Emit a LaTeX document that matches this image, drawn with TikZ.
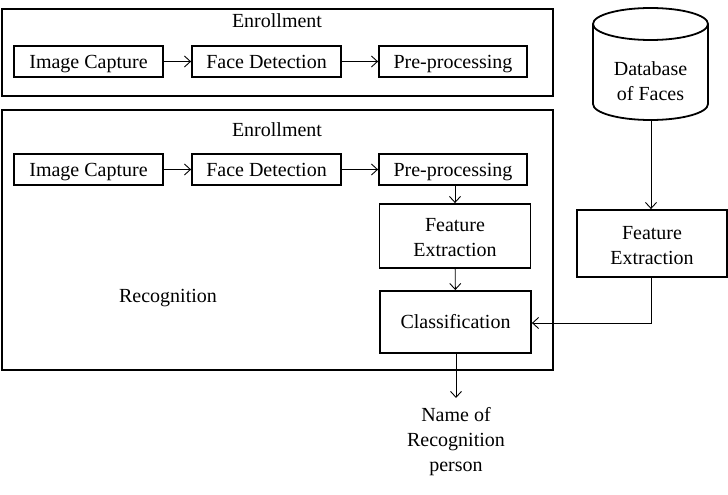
\documentclass[tikz,border=0pt]{standalone}
\usepackage{fontspec}
\setmainfont{Liberation Serif}
\usetikzlibrary{arrows.meta}
\begin{document}
\begin{tikzpicture}[x=1pt,y=-1pt,
  font=\fontsize{20}{25}\selectfont,
  one/.style={text height=15pt,text depth=1.6pt},
  box/.style={draw,line width=1.8pt,inner sep=0pt,align=center},
  outer/.style={draw,line width=1.8pt,inner sep=0pt},
  lbl/.style={inner sep=0pt,align=center},
  conn/.style={line width=0.9pt,-{Straight Barb[length=6pt,width=11pt]}}]
\useasboundingbox (0,0) rectangle (728,495);
% outer frames
\node[outer,minimum width=551pt,minimum height=87pt] (top) at (277.5,52.5) {};
\node[outer,minimum width=551pt,minimum height=260pt] (bot) at (277.5,240) {};
\node[lbl,one] (en1) at (277,21) {Enrollment};
\node[lbl,one] (en2) at (277,130) {Enrollment};
\node[lbl,one] (rec) at (168,296) {Recognition};
% row 1
\node[box,one,minimum width=149pt,minimum height=31pt] (ic1) at (88.5,61.5) {Image Capture};
\node[box,one,minimum width=149pt,minimum height=31pt] (fd1) at (266.5,61.5) {Face Detection};
\node[box,one,minimum width=148pt,minimum height=31pt] (pp1) at (453,61.5) {Pre-processing};
% row 2
\node[box,one,minimum width=149pt,minimum height=31pt] (ic2) at (88.5,169.5) {Image Capture};
\node[box,one,minimum width=149pt,minimum height=31pt] (fd2) at (266.5,169.5) {Face Detection};
\node[box,one,minimum width=148pt,minimum height=31pt] (pp2) at (453,169.5) {Pre-processing};
\node[box,minimum width=151pt,minimum height=64pt] (fe1) at (455,236) {};
\node[lbl] (fe1t) at (455,238) {Feature\\Extraction};
\node[box,one,minimum width=151pt,minimum height=62pt] (cl) at (455.5,322) {Classification};
\node[lbl] (name) at (456,442) {Name of\\Recognition\\person};
% database cylinder
\node[minimum width=115pt,minimum height=112pt,inner sep=0pt] (db) at (650.5,64) {};
\draw[line width=1.8pt] (593,24) arc[start angle=180,end angle=540,x radius=57.5pt,y radius=16pt]
  (593,24) -- (593,104) arc[start angle=180,end angle=0,x radius=57.5pt,y radius=-16pt] -- (708,24);
\node[lbl] (dbt) at (650.5,81) {Database\\of Faces};
\node[box,minimum width=150pt,minimum height=67pt] (fe2) at (652,243.5) {};
\node[lbl] (fe2t) at (652,246) {Feature\\Extraction};
% connectors
\draw[conn] (ic1) -- (fd1);
\draw[conn] (fd1) -- (pp1);
\draw[conn] (ic2) -- (fd2);
\draw[conn] (fd2) -- (pp2);
\draw[conn] (pp2.south -| fe1.north) -- (fe1.north);
\draw[conn] (fe1) -- (cl);
\coordinate (out) at (456,398);
\draw[conn] (cl.south -| out) -- (out);
\draw[conn] (db.south -| 651,0) -- (651,0 |- fe2.north);
\coordinate (bend) at (651,323);
\draw[conn] (fe2.south -| bend) -- (bend) -- (cl.east |- bend);
\end{tikzpicture}
\end{document}
